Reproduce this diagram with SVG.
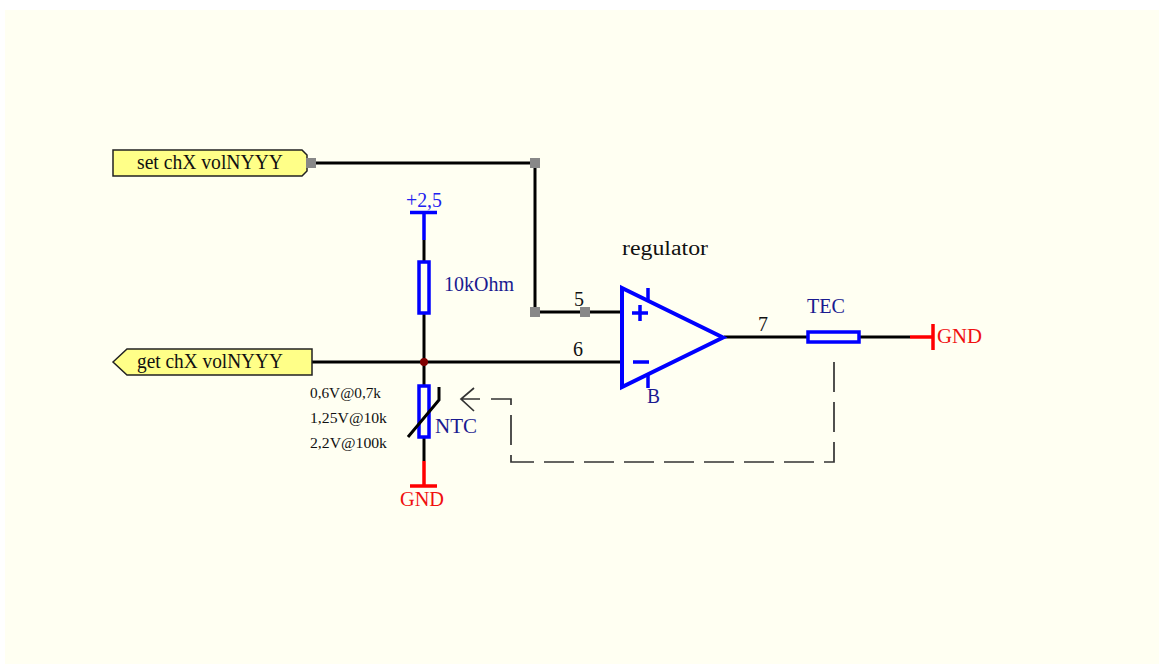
<svg xmlns="http://www.w3.org/2000/svg" width="1159" height="664" viewBox="0 0 1159 664">
<style>
text{font-family:"Liberation Serif","Times New Roman",serif;font-size:20px}
.k{fill:#111}.n{fill:#1a1a90}.b{fill:#2020f0}.r{fill:#f01010}
.s{font-size:15px}
.w{fill:none;stroke:#000;stroke-width:3}
.bl{fill:none;stroke:#0000ff;stroke-width:3.500}
.op{stroke-width:4}
.rd{fill:none;stroke:#ff0000;stroke-width:3.500}
.sq{fill:#888}
.pt{fill:#ffff88;stroke:#222;stroke-width:1.500}
.d{fill:none;stroke:#333;stroke-width:1.700}
</style>
<rect width="1159" height="664" fill="#fff"/>
<rect x="5" y="10" width="1154" height="654" fill="#fffff2"/>
<g id="connectors">
<path class="w" d="M312 163H535V312H622M312 362H622M424 240V262M424 313V386M424 437V461M724 337H808M859 337H910"/>
<path class="d" stroke-dasharray="30 10" d="M834 362V462H511V399H491"/>
<path class="d" d="M480 399H461M474 388L461 399L474 411"/>
</g>
<g id="port-set"><path class="pt" d="M113 150H302L307 155V171L302 176H113Z"/><rect class="sq" x="306" y="158" width="10" height="10"/><text class="k" x="137" y="169" textLength="146" lengthAdjust="spacingAndGlyphs">set chX volNYYY</text></g>
<g id="port-get"><path class="pt" d="M113 362L127 349H312V375H127Z"/><text class="k" x="137" y="368" textLength="146" lengthAdjust="spacingAndGlyphs">get chX volNYYY</text></g>
<g id="junctions"><rect class="sq" x="530" y="158" width="10" height="10"/><rect class="sq" x="530" y="307" width="10" height="10"/><rect class="sq" x="580" y="307" width="10" height="10"/><circle cx="424" cy="362" r="4" fill="#800000"/></g>
<g id="vcc"><path class="bl" d="M410 212.500H437M424 212.500V240"/><text class="b" x="406" y="207" textLength="36" lengthAdjust="spacingAndGlyphs">+2,5</text></g>
<g id="r1"><rect class="bl" x="419" y="262" width="10" height="51"/><text class="n" x="444" y="291" textLength="70" lengthAdjust="spacingAndGlyphs">10kOhm</text></g>
<g id="ntc"><rect class="bl" x="419" y="386" width="10" height="51"/><path class="w" d="M408 437L439 400V387"/><text class="n" x="435" y="433" textLength="42" lengthAdjust="spacingAndGlyphs">NTC</text><text class="k s" x="310" y="398" textLength="71" lengthAdjust="spacingAndGlyphs">0,6V@0,7k</text><text class="k s" x="310" y="423" textLength="77" lengthAdjust="spacingAndGlyphs">1,25V@10k</text><text class="k s" x="310" y="448" textLength="77" lengthAdjust="spacingAndGlyphs">2,2V@100k</text></g>
<g id="gnd1"><path class="rd" d="M424 461V486M410 486H437"/><text class="r" x="400" y="506" textLength="44" lengthAdjust="spacingAndGlyphs">GND</text></g>
<g id="opamp"><path class="bl op" d="M622 288L723 337.500L622 387Z"/><path class="bl" d="M648 288V300M648 375V388M632 313H648M640 305V321M633 362H649"/><text class="n" x="647" y="403" textLength="13" lengthAdjust="spacingAndGlyphs">B</text><text class="k" x="622" y="255" textLength="86" lengthAdjust="spacingAndGlyphs">regulator</text><text class="k" x="574" y="306">5</text><text class="k" x="573" y="356">6</text><text class="k" x="758" y="331">7</text></g>
<g id="tec"><rect class="bl" x="808" y="332" width="51" height="10"/><text class="n" x="807" y="313" textLength="38" lengthAdjust="spacingAndGlyphs">TEC</text></g>
<g id="gnd2"><path class="rd" d="M910 337H933M933 324V350"/><text class="r" x="937" y="343" textLength="45" lengthAdjust="spacingAndGlyphs">GND</text></g>
</svg>
